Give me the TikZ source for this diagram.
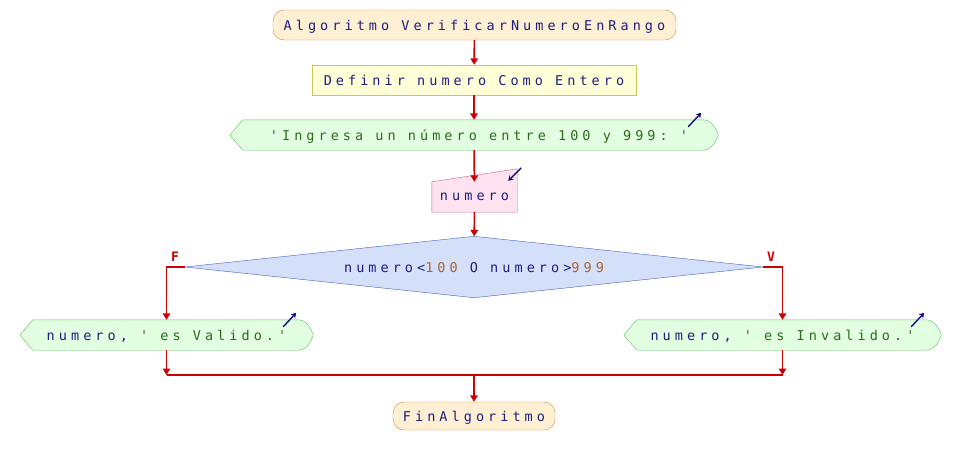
\documentclass[tikz,border=0pt]{standalone}
\usepackage{fontspec}
\usepackage{tikz}
\usetikzlibrary{arrows.meta}
\setmonofont[LetterSpace=30]{DejaVu Sans Mono}

\definecolor{flecha}{HTML}{CC0000}
\definecolor{ident}{HTML}{1E1E80}
\definecolor{cadena}{HTML}{2E6A1A}
\definecolor{numcol}{HTML}{B0602A}
\definecolor{icono}{HTML}{10107A}

\newcommand{\cad}[1]{\textcolor{cadena}{#1}}
\newcommand{\num}[1]{\textcolor{numcol}{#1}}

% contorno de salida: punta a la izquierda, curva a la derecha
\newcommand{\dibujasalida}[1]{%
  \draw[salidaborde] (#1.west) -- ([xshift=13pt]#1.north west)
    -- ([xshift=-15pt]#1.north east)
    .. controls ([xshift=-4pt]#1.north east) and (#1.east) .. (#1.east)
    .. controls (#1.east) and ([xshift=-4pt]#1.south east) .. ([xshift=-15pt]#1.south east)
    -- ([xshift=13pt]#1.south west) -- cycle;
  \draw[icon] ([xshift=-30pt,yshift=-7pt]#1.north east) -- ([xshift=-17pt,yshift=7pt]#1.north east);
}

\begin{document}
\begin{tikzpicture}[x=1pt,y=-1pt,
    font=\fontsize{13.5}{15}\selectfont\ttfamily,
    every node/.style={text=ident, inner sep=0pt, text depth=0pt},
    conector/.style={draw=flecha, line width=1.6pt, -{Triangle[length=6.5pt,width=7.5pt]}},
    linea/.style={draw=flecha, line width=1.6pt},
    terminal/.style={draw={rgb,255:red,200;green,144;blue,60}, fill={rgb,255:red,255;green,240;blue,212},
      rounded corners=11pt, minimum height=30pt},
    proceso/.style={draw={rgb,255:red,200;green,200;blue,80}, fill={rgb,255:red,255;green,255;blue,216},
      minimum height=30pt},
    salidaborde/.style={draw={rgb,255:red,96;green,192;blue,96}, fill={rgb,255:red,226;green,255;blue,226}},
    icon/.style={draw=icono, line width=1.4pt, -{Stealth[length=5pt,width=6pt]}},
    decisionborde/.style={draw={rgb,255:red,64;green,96;blue,192}, fill={rgb,255:red,212;green,224;blue,250}},
    etiqueta/.style={text=flecha, font=\fontsize{13}{15}\selectfont\ttfamily\bfseries}
  ]
  \useasboundingbox (0,0) rectangle (960,466);

  % Inicio y definicion
  \node[terminal, minimum width=403pt] (inicio) at (474.5,25) {Algoritmo VerificarNumeroEnRango};
  \node[proceso, minimum width=324pt] (definir) at (474,80) {Definir numero Como Entero};

  % Salida del mensaje
  \node[minimum width=488pt, minimum height=30pt] (pedir) at (474,135) {};
  \dibujasalida{pedir}
  \node at ([xshift=5pt]pedir) {\cad{'Ingresa un número entre 100 y 999: '}};

  % Lectura
  \node[minimum width=85pt, minimum height=30pt] (leer) at (474.5,197) {};
  \draw[draw={rgb,255:red,192;green,96;blue,144}, fill={rgb,255:red,255;green,226;blue,240}]
    (leer.south west) -- (leer.south east) -- ([yshift=13pt]leer.north east) -- (leer.north west) -- cycle;
  \draw[icon] ([xshift=4pt,yshift=14pt]leer.north east) -- ([xshift=-9pt,yshift=1pt]leer.north east);
  \node at (leer) {numero};

  % Decision
  \node[minimum width=578pt, minimum height=61pt] (cond) at (474,267) {};
  \draw[decisionborde] (cond.north) -- (cond.east) -- (cond.south) -- (cond.west) -- cycle;
  \node at (cond) {numero<\num{100} O numero>\num{999}};
  \node[etiqueta] (falso) at (175,257) {F};
  \node[etiqueta] (verdad) at (771,257) {V};

  % Ramas
  \node[minimum width=293pt, minimum height=30pt] (valido) at (166.5,335) {};
  \dibujasalida{valido}
  \node at (valido) {numero, \cad{' es Valido.'}};
  \node[minimum width=317pt, minimum height=30pt] (invalido) at (782.5,335) {};
  \dibujasalida{invalido}
  \node at (invalido) {numero, \cad{' es Invalido.'}};

  % Fin
  \coordinate (union) at (474,375);
  \node[terminal, minimum width=162pt, minimum height=28pt] (fin) at (474,416) {FinAlgoritmo};

  % Conectores
  \draw[conector] (inicio) -- (definir);
  \draw[conector] (definir) -- (pedir);
  \draw[conector] (pedir) -- (leer);
  \draw[conector] (leer) -- (cond);
  \draw[conector] (cond.west) -| (valido.north);
  \draw[conector] (cond.east) -| (invalido.north);
  \draw[conector] (valido.south) -- (valido.south |- union);
  \draw[conector] (invalido.south) -- (invalido.south |- union);
  \draw[linea] (valido.south |- union) -- (invalido.south |- union);
  \draw[conector] (union) -- (fin);
\end{tikzpicture}
\end{document}
